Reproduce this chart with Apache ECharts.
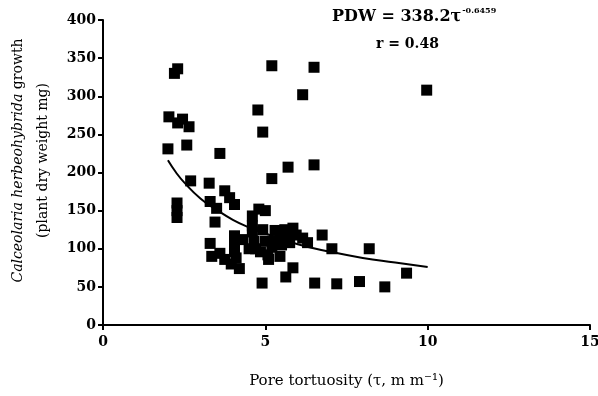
<!DOCTYPE html>
<html>
<head>
<meta charset="utf-8">
<script src="https://cdn.jsdelivr.net/npm/echarts@6/dist/echarts.min.js"></script>
<style>html,body{margin:0;padding:0;background:#fff}#c{width:598px;height:396px}</style>
</head>
<body>
<div id="c"></div>
<script>
// Observed points: pore tortuosity (tau) and plant dry weight (mg)
const tau = [
  2.2, 2.3, 5.2, 6.5, 6.15, 9.97, 4.77, 2.03, 2.45, 2.3, 2.65, 4.92, 2.58, 2.0, 3.6,
  5.7, 6.5, 5.2, 2.7, 3.27, 3.75, 3.9, 4.05, 3.3, 3.5, 2.28, 2.28, 2.28, 3.45, 4.6,
  4.8, 5.0, 3.3, 3.35, 3.6, 3.75, 3.95, 4.2, 4.05, 4.05, 4.05, 4.1, 4.3, 4.6, 4.65,
  4.7, 4.92, 4.85, 5.08, 5.1, 5.3, 5.45, 5.45, 5.6, 5.85, 5.66, 5.95, 6.15, 6.3, 6.75,
  7.05, 8.2, 9.35, 5.85, 5.63, 4.9, 6.52, 7.2, 7.9, 8.68, 5.2, 5.5, 4.5,
  5.3, 5.55, 5.75, 4.6, 5.0
];
const weight = [
  330, 336, 340, 338, 302, 308, 282, 273, 270, 265, 260, 253, 236, 231, 225,
  207, 210, 192, 189, 186, 176, 167, 158, 162, 153, 160, 150, 141, 135, 143,
  152, 150, 107, 90, 94, 86, 80, 74, 117, 105, 96, 88, 112, 122, 110,
  100, 125, 96, 92, 86, 110, 120, 90, 125, 127, 114, 118, 114, 108, 118,
  100, 100, 68, 75, 63, 55, 55, 54, 57, 50, 102, 105, 100,
  124, 112, 108, 130, 110
];
// Fitted curve PDW = 338.2 tau^-0.6459
const fitTau = [2, 2.25, 2.5, 3, 3.5, 4, 4.5, 5, 6, 7, 8, 9, 10];
const fitPDW = [216, 200, 187, 166, 151, 138, 128, 120, 106, 96, 88, 82, 76];
const xTicks = [0, 5, 10, 15];
const yTicks = [0, 50, 100, 150, 200, 250, 300, 350, 400];

const pts = tau.map((t, i) => [t, weight[i]]);
const fit = fitTau.map((t, i) => [t, fitPDW[i]]);

const chart = echarts.init(document.getElementById('c'), null, {renderer: 'canvas'});
const FONT = 'DejaVu Serif';
chart.setOption({
  animation: false,
  backgroundColor: '#fff',
  grid: {left: 103, right: 8, top: 20, bottom: 71, containLabel: false, outerBoundsMode: 'none'},
  xAxis: {
    type: 'value', min: xTicks[0], max: xTicks[xTicks.length - 1], interval: 5,
    axisLine: {show: true, lineStyle: {color: '#000', width: 2}},
    axisTick: {show: true, length: 5, lineStyle: {color: '#000', width: 2}},
    axisLabel: {color: '#000', fontFamily: FONT, fontWeight: 'bold', fontSize: 14, margin: 10},
    splitLine: {show: false},
    name: 'Pore tortuosity (τ, m m⁻¹)', nameLocation: 'middle', nameGap: 49,
    nameTextStyle: {color: '#000', fontFamily: FONT, fontSize: 15}
  },
  yAxis: {
    type: 'value', min: yTicks[0], max: yTicks[yTicks.length - 1], interval: 50,
    axisLine: {show: true, lineStyle: {color: '#000', width: 2}},
    axisTick: {show: true, length: 5, lineStyle: {color: '#000', width: 2}},
    axisLabel: {color: '#000', fontFamily: FONT, fontWeight: 'bold', fontSize: 14, margin: 7},
    splitLine: {show: false},
    name: '{i|Calceolaria herbeohybrida} {n|growth}\n{n|(plant dry weight mg)}',
    nameLocation: 'middle', nameGap: 45, nameRotate: 90,
    nameTextStyle: {
      color: '#000', fontFamily: FONT, fontSize: 14, lineHeight: 25, padding: [0, 0, 0, 24],
      rich: {
        i: {fontStyle: 'italic', fontFamily: FONT, fontSize: 14, color: '#000', lineHeight: 25},
        n: {fontFamily: FONT, fontSize: 14, color: '#000', lineHeight: 25}
      }
    }
  },
  series: [
    {
      type: 'scatter', data: pts, symbol: 'rect', symbolSize: 11,
      itemStyle: {color: '#000', opacity: 1}, z: 3
    },
    {
      type: 'line', data: fit, smooth: true, showSymbol: false, symbol: 'none',
      lineStyle: {color: '#000', width: 2}, z: 4
    }
  ],
  graphic: [
    {
      type: 'text', left: 332, top: 7,
      style: {
        text: '{a|PDW = 338.2τ}{s|-0.6459}',
        rich: {
          a: {fill: '#000', font: 'bold 16px "DejaVu Serif"', lineHeight: 20},
          s: {fill: '#000', font: 'bold 8px "DejaVu Serif"', verticalAlign: 'top', lineHeight: 20, padding: [0, 0, 8, 1]}
        }
      }
    },
    {type: 'text', left: 376, top: 37, style: {text: 'r = 0.48', fill: '#000', font: 'bold 14px "DejaVu Serif"'}}
  ]
});
</script>
</body>
</html>
